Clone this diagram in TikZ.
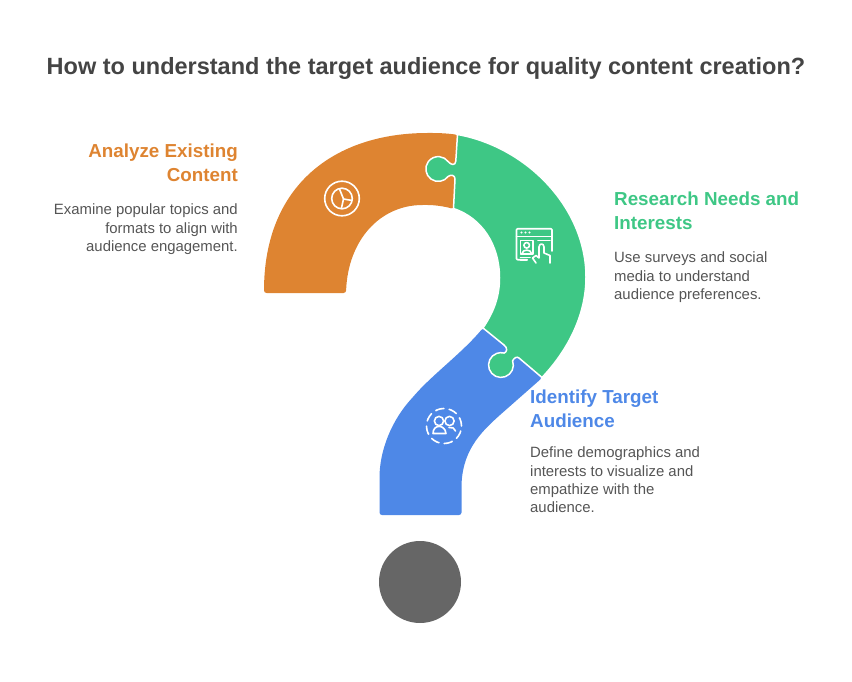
\documentclass[tikz,border=0pt]{standalone}
\usepackage{fontspec}
\setmainfont{Liberation Sans}
\definecolor{orangepart}{HTML}{DE8431}
\definecolor{greenpart}{HTML}{3EC785}
\definecolor{bluepart}{HTML}{4E88E7}
\definecolor{dotgray}{HTML}{666666}
\definecolor{titlegray}{HTML}{444444}
\definecolor{bodygray}{HTML}{555555}
\tikzset{
  titletext/.style={text=titlegray,inner sep=0pt,font=\fontsize{23.5}{28}\selectfont\bfseries},
  headtext/.style={inner sep=0pt,font=\fontsize{18.8}{24}\selectfont\bfseries},
  bodytext/.style={text=bodygray,inner sep=0pt,font=\fontsize{14.9}{18.1}\selectfont},
  iconline/.style={draw=white,line width=1.6pt},
}
\begin{document}
\begin{tikzpicture}[line cap=round,line join=round,x=1pt,y=-1pt]
\useasboundingbox (0,0) rectangle (852,682);
% title
\node[titletext,anchor=base] (title) at (426,74.5) {How to understand the target audience for quality content creation?};
% question mark
\fill[orangepart,rounded corners=2.5pt] (264,293) .. controls (264,185) and (335,133) .. (430,133)
  .. controls (440,133) and (449,133.5) .. (458,135) -- (453.5,209)
  .. controls (445,206.5) and (435,205) .. (425,205)
  .. controls (380,205) and (348,240) .. (346,293) -- cycle;
\fill[bluepart,rounded corners=2.5pt] (483,328) .. controls (462,353) and (432,375) .. (413,397)
  .. controls (392,420) and (379.5,450) .. (379.5,480) -- (379.5,515) -- (461.5,515) -- (461.5,490)
  .. controls (461.5,452) and (480,433) .. (500,415) -- (542,378) -- cycle;
\draw[fill=greenpart,draw=white,line width=1.5pt] (457.5,134.5) .. controls (527,147) and (586,208) .. (586,277)
  .. controls (586,315) and (568,350) .. (542,377.5) -- (519,358)
  .. controls (517,356) and (514,358) .. (512.6,360.8) arc (-20:285:12.4)
  .. controls (507,352) and (508,348) .. (504,345) -- (483,328)
  .. controls (493,313) and (499.5,298) .. (499.5,278)
  .. controls (499.5,245) and (482,218) .. (453.5,208.5) -- (455,179)
  .. controls (455,175) and (451,174.5) .. (448.3,176.3) arc (36:324:12.4)
  .. controls (451,165) and (455.5,166) .. (455.8,161) -- cycle;
\node[fill=dotgray,circle,minimum size=82pt,inner sep=0pt] (dot) at (420,582) {};
% pie icon
\draw[iconline] (342,198.5) circle (17.3pt);
\draw[iconline] (342,198.5) circle (10.3pt);
\draw[iconline] (339.5,189) -- (343.5,199) -- (352,200.5);
\draw[iconline] (343.5,199) -- (341.5,208);
% browser icon
\draw[iconline,rounded corners=1pt] (527,259.7) -- (516.5,259.7) -- (516.5,228.7) -- (552,228.7) -- (552,251);
\draw[iconline] (516.5,236.5) -- (552,236.5);
\foreach \dotx in {521.5,525.5,529.5}
  \fill[white] (\dotx,232.5) circle (1.1pt);
\draw[iconline] (520.5,240.5) rectangle (533,254);
\draw[iconline] (526.7,245.3) circle (2.8pt);
\draw[iconline] (522,253.5) .. controls (522.5,249) and (531,249) .. (531.5,253.5);
\draw[iconline] (538,240.5) -- (550,240.5);
\draw[iconline] (520.5,257.5) -- (530,257.5);
\draw[iconline] (520.5,260) -- (527,260);
\draw[iconline] (536,263) -- (532.5,258) -- (536,255.5) -- (539,258) -- (539,247)
  .. controls (539,243) and (544,243) .. (544,247) -- (544,253) -- (550,255.5) -- (550,263);
% people icon
\draw[iconline,dash pattern=on 8.5pt off 5.25pt] (444,426) circle (17.5pt);
\draw[iconline] (439,421) circle (4.6pt);
\draw[iconline] (449.5,421) circle (4.6pt);
\draw[iconline] (433,433.5) .. controls (433,424) and (445,424) .. (446,433.5) -- cycle;
\draw[iconline] (449,427.5) .. controls (452,427) and (455,428) .. (455.5,431);
% texts
\node[headtext,text=orangepart,anchor=north east,align=right] (headorange) at (238,143.5) {Analyze Existing\\Content};
\node[bodytext,anchor=north east,align=right] (bodyorange) at (238,204) {Examine popular topics and\\formats to align with\\audience engagement.};
\node[headtext,text=greenpart,anchor=north west,align=left] (headgreen) at (614,191.5) {Research Needs and\\Interests};
\node[bodytext,anchor=north west,align=left] (bodygreen) at (614,252) {Use surveys and social\\media to understand\\audience preferences.};
\node[headtext,text=bluepart,anchor=north west,align=left] (headblue) at (530,389.5) {Identify Target\\Audience};
\node[bodytext,anchor=north west,align=left] (bodyblue) at (530,447) {Define demographics and\\interests to visualize and\\empathize with the\\audience.};
\end{tikzpicture}
\end{document}
